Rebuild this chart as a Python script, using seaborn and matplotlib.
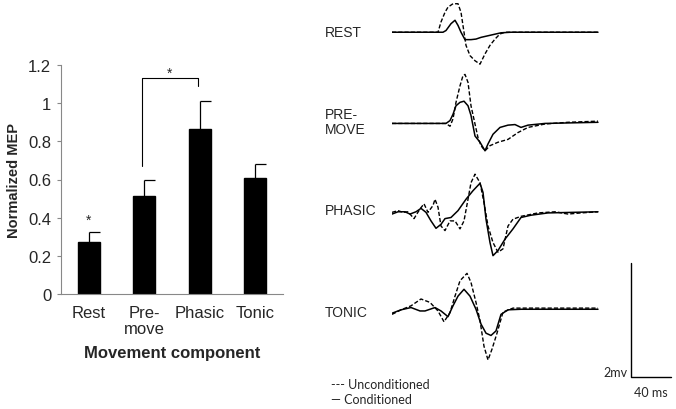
import numpy as np
import pandas as pd
import seaborn as sns
import matplotlib
matplotlib.use("Agg")
import matplotlib.pyplot as plt

# bar chart data
components = ["Rest", "Pre-\nmove", "Phasic", "Tonic"]
mep_mean = [0.271, 0.514, 0.865, 0.606]
mep_err = [0.056, 0.085, 0.148, 0.073]

# MEP traces (time in ms, amplitude in mV)
rest_t_unc = [0, 46, 49, 53, 56, 61, 66, 69, 72, 74, 78, 83, 88, 93, 98, 103, 108, 113, 206]
rest_v_unc = [0, 0, 0.18, 0.35, 0.44, 0.50, 0.50, 0.35, 0, -0.23, -0.41, -0.50, -0.56, -0.38, -0.23, -0.12, -0.03, 0, 0]
rest_t_con = [0, 51, 54, 59, 63, 66, 69, 73, 79, 84, 89, 99, 109, 119, 206]
rest_v_con = [0, 0, 0.03, 0.15, 0.21, 0.12, 0, -0.13, -0.13, -0.12, -0.09, -0.05, -0.01, 0, 0]

pre_t_unc = [0, 54, 58, 61, 64, 68, 71, 73, 76, 79, 83, 86, 89, 93, 98, 106, 116, 126, 136, 153, 176, 206]
pre_v_unc = [0, 0, -0.05, 0.08, 0.37, 0.66, 0.84, 0.86, 0.72, 0.31, -0.01, -0.25, -0.39, -0.48, -0.39, -0.33, -0.28, -0.16, -0.07, -0.01, 0.02, 0.04]
pre_t_con = [0, 54, 58, 61, 64, 68, 72, 76, 79, 83, 88, 93, 96, 101, 108, 116, 123, 129, 136, 153, 206]
pre_v_con = [0, 0, 0.05, 0.16, 0.31, 0.37, 0.39, 0.31, 0.14, -0.22, -0.33, -0.48, -0.36, -0.19, -0.07, -0.03, -0.02, -0.07, -0.03, 0, 0.02]

pha_t_unc = [0, 6, 11, 16, 22, 28, 32, 36, 41, 43, 46, 49, 53, 58, 63, 68, 72, 76, 79, 83, 88, 92, 96, 101, 106, 111, 116, 121, 129, 146, 163, 176, 189, 206]
pha_v_unc = [-0.01, 0.02, -0.01, 0, -0.12, 0.05, 0.14, -0.01, 0.11, 0.22, 0.08, -0.25, -0.33, -0.16, -0.16, -0.30, -0.16, 0.22, 0.51, 0.66, 0.51, 0.16, -0.25, -0.54, -0.71, -0.65, -0.25, -0.13, -0.08, -0.02, 0, -0.04, -0.02, 0]
pha_t_con = [0, 6, 13, 18, 24, 29, 34, 39, 44, 49, 53, 59, 66, 74, 81, 88, 91, 94, 98, 101, 106, 113, 121, 129, 139, 156, 206]
pha_v_con = [-0.04, 0, 0, -0.04, 0, 0.06, -0.01, -0.16, -0.29, -0.22, -0.12, -0.10, 0.02, 0.22, 0.37, 0.50, 0.34, -0.13, -0.54, -0.77, -0.68, -0.48, -0.30, -0.10, -0.06, -0.02, 0]

ton_t_unc = [0, 9, 19, 29, 38, 46, 52, 58, 63, 68, 75, 79, 84, 88, 92, 96, 100, 105, 111, 121, 206]
ton_v_unc = [-0.09, -0.01, 0.06, 0.18, 0.12, -0.03, -0.22, -0.06, 0.23, 0.50, 0.63, 0.47, 0.12, -0.20, -0.65, -0.89, -0.70, -0.42, -0.05, 0.02, 0.02]
ton_t_con = [0, 9, 19, 28, 33, 43, 49, 56, 61, 66, 72, 78, 84, 89, 94, 99, 104, 109, 116, 129, 206]
ton_v_con = [-0.07, -0.01, 0.03, -0.03, -0.03, 0.03, -0.03, -0.13, 0.06, 0.23, 0.35, 0.23, 0, -0.26, -0.42, -0.46, -0.38, -0.09, -0.01, 0, 0]

trace_names = ["REST", "PRE-\nMOVE", "PHASIC", "TONIC"]
scale_ms = 40
scale_mv = 2

sns.set_theme(style="ticks")
plt.rcParams['font.family'] = ['Liberation Sans', 'DejaVu Sans']
calibri_like = ["Lato", "DejaVu Sans"]

fig = plt.figure(figsize=(6.76, 4.10), dpi=100)

# ---- bar chart
ax = fig.add_axes([61 / 676, 1 - 295 / 410, 222 / 676, 229 / 410])
df = pd.DataFrame({"comp": components, "mep": mep_mean})
sns.barplot(data=df, x="comp", y="mep", color="black", width=0.39, ax=ax,
            saturation=1, edgecolor="black")
xs = np.arange(len(components))
ax.errorbar(xs, mep_mean, yerr=[np.zeros(4), mep_err], fmt="none", ecolor="black",
            elinewidth=0.9, capsize=0)
tops = np.array(mep_mean) + np.array(mep_err)
ax.hlines(tops, xs, xs + 0.195, color="black", lw=0.9)

ax.set_ylim(0, 1.2)
ax.set_xlim(-0.5, 3.5)
ax.set_yticks([0, 0.2, 0.4, 0.6, 0.8, 1.0, 1.2])
ax.set_yticklabels(["0", "0.2", "0.4", "0.6", "0.8", "1", "1.2"], fontsize=12)
ax.set_xticklabels(components, fontsize=12, va="top", linespacing=1.05)
ax.tick_params(axis="x", length=0, pad=8)
ax.tick_params(axis="y", length=3, width=0.8, color="#888888", pad=4)
ax.set_xlabel("Movement component", fontsize=12, fontweight="bold", labelpad=7)
ax.set_ylabel("Normalized MEP", fontsize=10.5, fontweight="bold", labelpad=5)
for s in ["top", "right"]:
    ax.spines[s].set_visible(False)
for s in ["left", "bottom"]:
    ax.spines[s].set_color("#888888")
    ax.spines[s].set_linewidth(0.8)

# significance marks
ax.plot([0.96, 0.96, 1.96, 1.96], [0.67, 1.13, 1.13, 1.09], color="black", lw=0.8)
ax.text(1.46, 1.12, "*", ha="center", va="bottom", fontsize=10)
ax.text(0, 0.35, "*", ha="center", va="bottom", fontsize=10)

# ---- traces
tx = fig.add_axes([392 / 676, 0, 284 / 676, 1])
tx.set_xlim(0, 284)
tx.set_ylim(0, 410 / 57)

baselines = [6.61, 5.01, 3.46, 1.75]
traces = [(rest_t_unc, rest_v_unc, rest_t_con, rest_v_con),
          (pre_t_unc, pre_v_unc, pre_t_con, pre_v_con),
          (pha_t_unc, pha_v_unc, pha_t_con, pha_v_con),
          (ton_t_unc, ton_v_unc, ton_t_con, ton_v_con)]
for base, (tu, vu, tc, vc) in zip(baselines, traces):
    sns.lineplot(x=tu, y=np.array(vu) + base, ax=tx, color="black", lw=1.0,
                 linestyle=(0, (3, 1.5)), sort=False, estimator=None)
    sns.lineplot(x=tc, y=np.array(vc) + base, ax=tx, color="black", lw=1.1,
                 sort=False, estimator=None)
tx.axis("off")

label_y = [0.9195, 0.701, 0.486, 0.2366]
for name, y in zip(trace_names, label_y):
    fig.text(325 / 676, y, name, ha="left", va="center", fontsize=10,
             linespacing=1.1)

# scale bar
x0, y0 = 239, 0.57
tx.plot([x0, x0, x0 + scale_ms], [y0 + scale_mv, y0, y0], color="black", lw=1.0)
tx.text(x0 - 3, y0 + 0.08, f"{scale_mv}mv", ha="right", va="center",
        fontsize=9, family=calibri_like)
tx.text(x0 + scale_ms / 2, y0 - 0.27, f"{scale_ms} ms", ha="center", va="center",
        fontsize=9, family=calibri_like)

fig.text(331 / 676, 1 - 385 / 410, "--- Unconditioned", ha="left", va="center",
         fontsize=9, family=calibri_like)
fig.text(331 / 676, 1 - 400 / 410, "\u2014 Conditioned", ha="left", va="center",
         fontsize=9, family=calibri_like)

fig.savefig("out.png", dpi=100)
